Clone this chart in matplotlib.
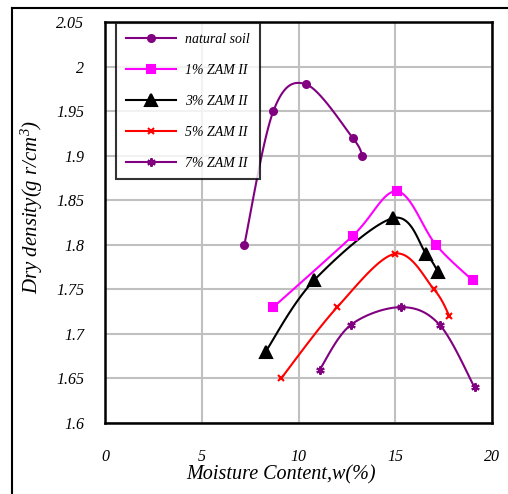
import numpy as np
import matplotlib.pyplot as plt
from matplotlib.lines import Line2D

# moisture content (%) and dry density (g/cm3)
natural_x = [7.2, 8.7, 10.4, 12.8, 13.3]
natural_y = [1.80, 1.95, 1.98, 1.92, 1.90]
zam1_x = [8.7, 12.8, 15.1, 17.1, 19.0]
zam1_y = [1.73, 1.81, 1.86, 1.80, 1.76]
zam3_x = [8.3, 10.8, 14.9, 16.6, 17.2]
zam3_y = [1.68, 1.76, 1.83, 1.79, 1.77]
zam5_x = [9.1, 12.0, 15.0, 17.0, 17.8]
zam5_y = [1.65, 1.73, 1.79, 1.75, 1.72]
zam7_x = [11.1, 12.7, 15.3, 17.3, 19.1]
zam7_y = [1.66, 1.71, 1.73, 1.71, 1.64]

labels = ["natural soil", "1% ZAM II", "3% ZAM II", "5% ZAM II", "7% ZAM II"]
x_ticks = [0, 5, 10, 15, 20]
y_ticks = [1.6, 1.65, 1.7, 1.75, 1.8, 1.85, 1.9, 1.95, 2.0, 2.05]
y_ticklabels = ["1.6", "1.65", "1.7", "1.75", "1.8", "1.85", "1.9", "1.95", "2", "2.05"]


def smooth(xs, ys, n=30):
    # catmull-rom through the points, like excel's smoothed line
    p = np.column_stack([xs, ys])
    p = np.vstack([p[0], p, p[-1]])
    out = []
    for i in range(1, len(p) - 2):
        p0, p1, p2, p3 = p[i - 1], p[i], p[i + 1], p[i + 2]
        c1 = p1 + (p2 - p0) / 6
        c2 = p2 - (p3 - p1) / 6
        t = np.linspace(0, 1, n)[:, None]
        seg = (1 - t) ** 3 * p1 + 3 * (1 - t) ** 2 * t * c1 + 3 * (1 - t) * t ** 2 * c2 + t ** 3 * p2
        out.append(seg)
    out = np.vstack(out)
    return out[:, 0], out[:, 1]


plt.rcParams['font.family'] = 'Liberation Serif'
plt.rcParams['font.style'] = 'italic'
plt.rcParams['mathtext.fontset'] = 'custom'
plt.rcParams['mathtext.it'] = 'Liberation Serif:italic'
plt.rcParams['mathtext.rm'] = 'Liberation Serif:italic'

fig = plt.figure(figsize=(5.08, 4.94), dpi=100)
ax = fig.add_axes([105 / 508, 1 - 423 / 494, 387 / 508, 401 / 494])

series = [
    (natural_x, natural_y, '#800080', 'o', 5),
    (zam1_x, zam1_y, '#ff00ff', 's', 6),
    (zam3_x, zam3_y, 'black', '^', 9),
    (zam5_x, zam5_y, '#ff0000', 'x', 5),
    (zam7_x, zam7_y, '#800080', (6, 2, 0), 6),
]

handles = []
for (xs, ys, col, mk, ms), lab in zip(series, labels):
    sx, sy = smooth(xs, ys)
    ax.plot(sx, sy, color=col, lw=1.5, zorder=3)
    ax.plot(xs, ys, ls='none', marker=mk, ms=ms, color=col, mec=col, mew=1.5, zorder=4)
    handles.append(Line2D([], [], color=col, lw=1.5, marker=mk, ms=ms, mec=col, mew=1.5))

ax.set_xlim(0, 20)
ax.set_ylim(1.6, 2.05)
ax.set_xticks(x_ticks)
ax.set_yticks(y_ticks)
ax.set_yticklabels(y_ticklabels)
ax.grid(True, color='#c0c0c0', lw=1.5)
ax.set_axisbelow(True)
ax.tick_params(length=0, labelsize=11.5)
ax.tick_params(axis='x', pad=19)
ax.tick_params(axis='y', pad=15)
for s in ax.spines.values():
    s.set_linewidth(1.8)
    s.set_color('black')

ax.set_xlabel("Moisture Content,w(%)", fontsize=14.5)
ax.xaxis.set_label_coords(0.455, -0.105)
ax.set_ylabel("Dry density(g r/cm$^{3}$)", fontsize=15)
ax.yaxis.set_label_coords(-0.155, 0.54)

leg = ax.legend(handles, labels, loc='upper left', bbox_to_anchor=(0.028, 0.998),
                borderaxespad=0, fontsize=10, handlelength=3.6, labelspacing=1.3,
                fancybox=False, frameon=True, borderpad=0.7, handletextpad=0.7)
leg.get_frame().set_edgecolor('black')
leg.get_frame().set_linewidth(1.5)

# outer chart frame
fig.add_artist(Line2D([12 / 508, 12 / 508], [0, 1 - 8 / 494], color='black', lw=1.5))
fig.add_artist(Line2D([12 / 508, 1], [1 - 8 / 494, 1 - 8 / 494], color='black', lw=1.5))

fig.savefig('out.png', dpi=100)
